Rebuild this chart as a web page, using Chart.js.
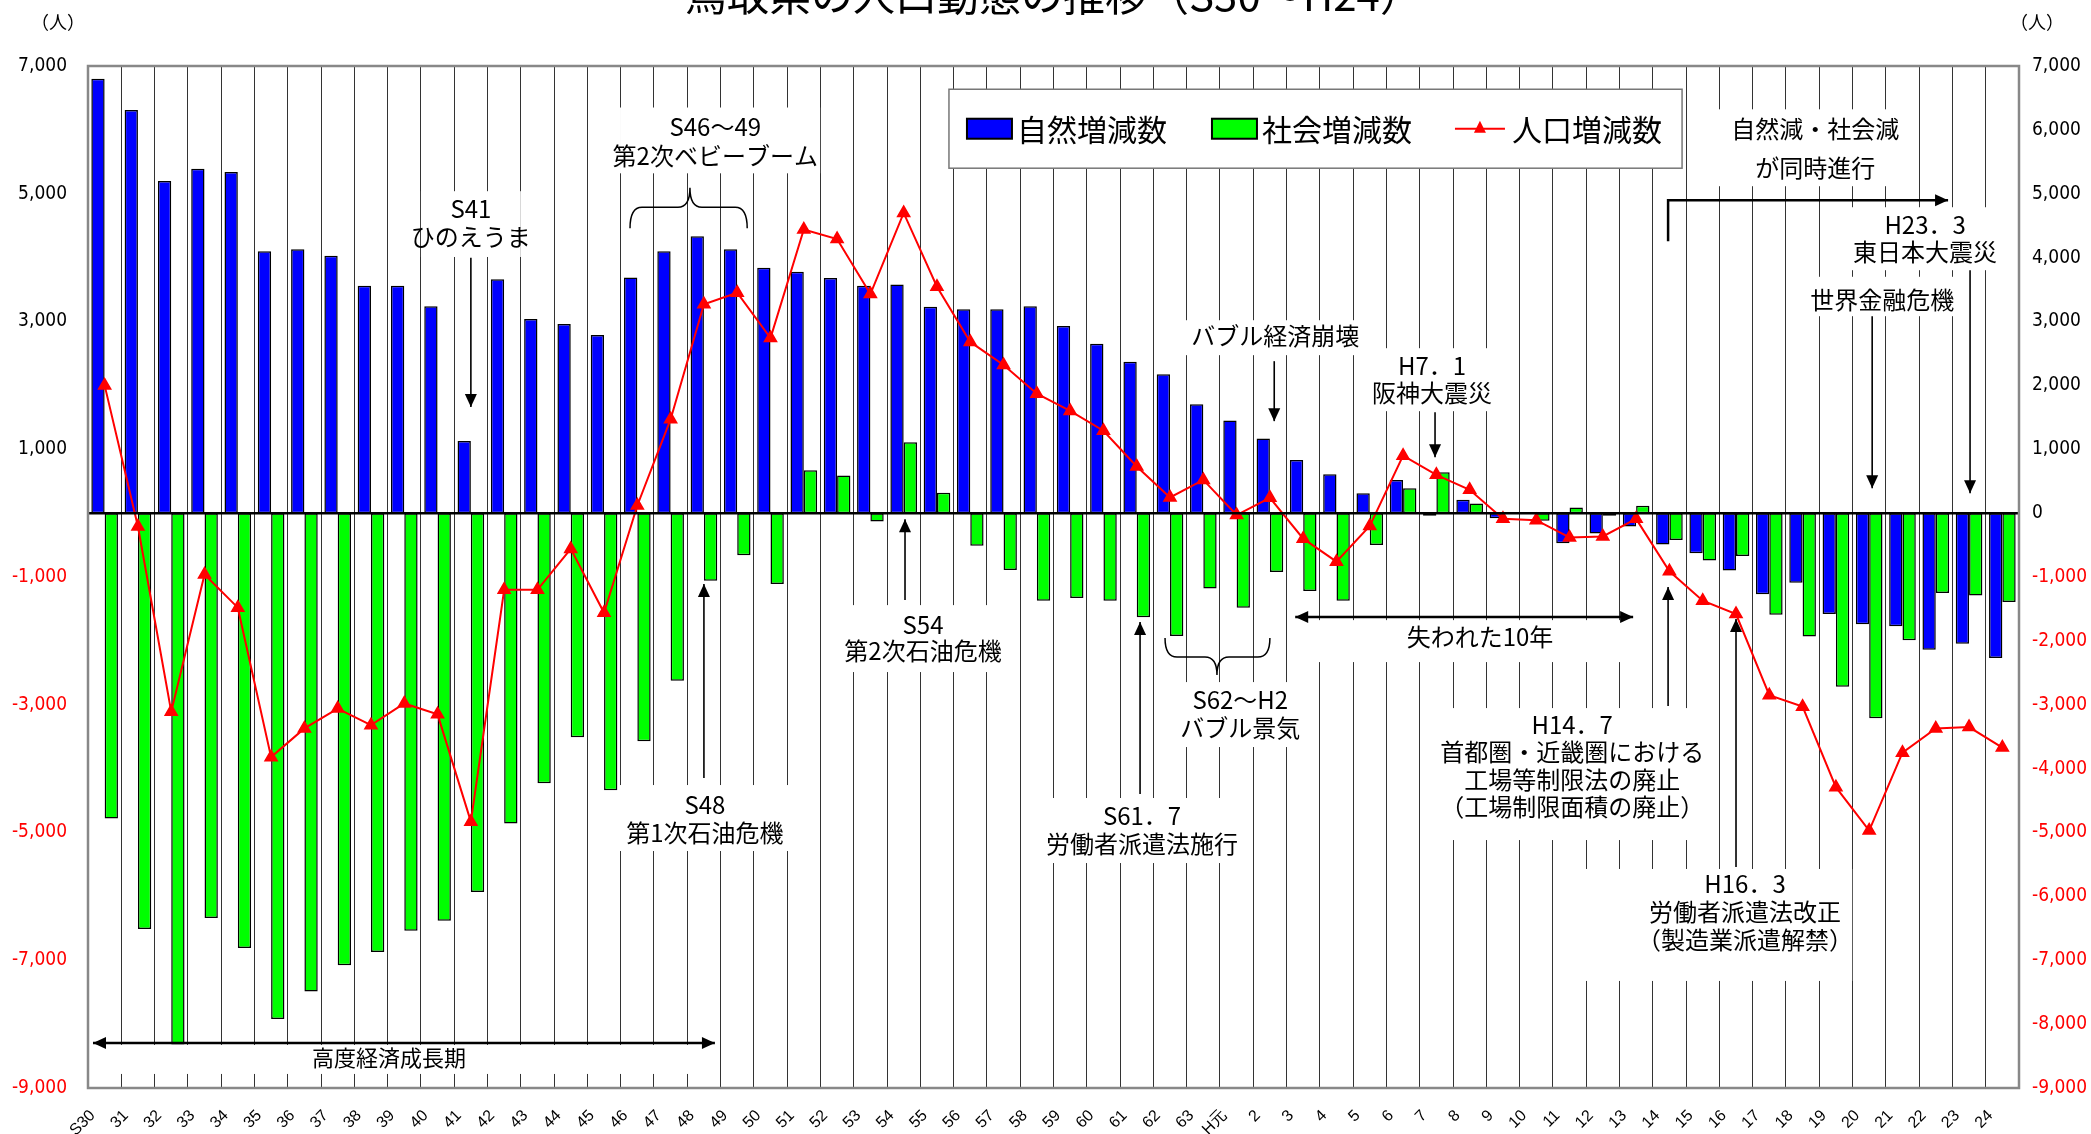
<!DOCTYPE html>
<html lang="ja">
<head>
<meta charset="utf-8">
<title>鳥取県の人口動態の推移</title>
<script src="https://cdn.jsdelivr.net/npm/chart.js@4/dist/chart.umd.min.js"></script>
<style>
  html, body { margin: 0; padding: 0; background: #fff; }
  canvas { display: block; }
</style>
</head>
<body>
<canvas id="chart" width="2091" height="1134"></canvas>
<script>
// 年次 (S30～H24)
const years = [
  'S30', '31', '32', '33', '34', '35', '36', '37', '38', '39',
  '40', '41', '42', '43', '44', '45', '46', '47', '48', '49',
  '50', '51', '52', '53', '54', '55', '56', '57', '58', '59',
  '60', '61', '62', '63', 'H元', '2', '3', '4', '5', '6',
  '7', '8', '9', '10', '11', '12', '13', '14', '15', '16',
  '17', '18', '19', '20', '21', '22', '23', '24'
];

// 自然増減数
const naturalChange = [
  6800, 6310, 5200, 5390, 5340, 4100, 4130, 4030, 3560, 3560,
  3240, 1130, 3660, 3040, 2960, 2790, 3690, 4100, 4335, 4130,
  3840, 3780, 3680, 3560, 3580, 3230, 3190, 3190, 3240, 2930,
  2650, 2370, 2175, 1705, 1450, 1170, 830, 610, 310, 520,
  -40, 210, -80, 10, -470, -320, -210, -490, -630, -900,
  -1270, -1090, -1580, -1740, -1770, -2140, -2045, -2270
];

// 社会増減数
const socialChange = [
  -4780, -6510, -8320, -6340, -6810, -7920, -7490, -7080, -6870, -6540,
  -6380, -5930, -4860, -4230, -3510, -4340, -3570, -2625, -1060, -660,
  -1110, 670, 590, -130, 1110, 320, -510, -890, -1370, -1330,
  -1370, -1630, -1925, -1180, -1480, -920, -1220, -1370, -500, 390,
  640, 150, -10, -120, 90, -40, 115, -420, -740, -670,
  -1590, -1930, -2720, -3210, -1990, -1250, -1290, -1390
];

// 人口増減数
const totalChange = [
  2000, -210, -3110, -960, -1480, -3820, -3370, -3060, -3320, -2980,
  -3150, -4830, -1200, -1200, -560, -1560, 120, 1470, 3270, 3450,
  2740, 4440, 4290, 3430, 4700, 3545, 2680, 2320, 1870, 1600,
  1290, 730, 245, 520, -30, 240, -400, -760, -200, 900,
  600, 365, -90, -110, -380, -365, -90, -910, -1370, -1580,
  -2850, -3030, -4290, -4970, -3750, -3370, -3350, -3670
];

// 目盛
const leftTicks = [7000, 5000, 3000, 1000, -1000, -3000, -5000, -7000, -9000];
const rightTicks = [7000, 6000, 5000, 4000, 3000, 2000, 1000, 0, -1000, -2000, -3000, -4000, -5000, -6000, -7000, -8000, -9000];

const JP = '"Noto Sans CJK JP", "Noto Sans CJK SC", sans-serif';
const NARROW = '"Liberation Sans Narrow", "DejaVu Sans Condensed", "Liberation Sans", sans-serif';
const SANS = '"Liberation Sans", Arial, sans-serif';

// annotations, placed in chart units (category index, value)
const noteBoxes = [
  { i0: 9.5, i1: 12.5, v0: 5040, v1: 4010 },
  { i0: 15.48, i1: 21.49, v0: 6350, v1: 5320 },
  { i0: 15.27, i1: 20.59, v0: -4257, v1: -5290 },
  { i0: 22.06, i1: 27.08, v0: -1440, v1: -2488 },
  { i0: 32.45, i1: 38.46, v0: 3020, v1: 2473 },
  { i0: 37.95, i1: 41.55, v0: 2582, v1: 1596 },
  { i0: 48.46, i1: 54.47, v0: 6322, v1: 5118 },
  { i0: 52.19, i1: 57.09, v0: 4789, v1: 3803 },
  { i0: 51.08, i1: 55.67, v0: 3700, v1: 3083 },
  { i0: 35.6, i1: 46.1, v0: -1675, v1: -2332 },
  { i0: 32.3, i1: 35.9, v0: -2645, v1: -3662 },
  { i0: 28.1, i1: 34.35, v0: -4460, v1: -5478 },
  { i0: 39.96, i1: 47.98, v0: -3052, v1: -5118 },
  { i0: 44.47, i1: 52.49, v0: -5571, v1: -7324 },
  { i0: -0.35, i1: 18.33, v0: -8326, v1: -8780 }
];

const noteTexts = [
  { i: 11, v: 4760, t: 'S41' },
  { i: 11, v: 4320, t: 'ひのえうま' },
  { i: 18.34, v: 6040, t: 'S46～49' },
  { i: 18.34, v: 5600, t: '第2次ベビーブーム' },
  { i: 18.03, v: -4570, t: 'S48' },
  { i: 18.03, v: -5010, t: '第1次石油危機' },
  { i: 24.58, v: -1753, t: 'S54' },
  { i: 24.58, v: -2160, t: '第2次石油危機' },
  { i: 35.16, v: 2770, t: 'バブル経済崩壊' },
  { i: 39.87, v: 2300, t: 'H7．1' },
  { i: 39.87, v: 1878, t: '阪神大震災' },
  { i: 51.38, v: 6010, t: '自然減・社会減' },
  { i: 51.38, v: 5400, t: 'が同時進行' },
  { i: 54.68, v: 4507, t: 'H23．3' },
  { i: 54.68, v: 4085, t: '東日本大震災' },
  { i: 53.39, v: 3333, t: '世界金融危機' },
  { i: 41.31, v: -1940, t: '失われた10年' },
  { i: 34.11, v: -2927, t: 'S62～H2' },
  { i: 34.11, v: -3365, t: 'バブル景気' },
  { i: 31.16, v: -4742, t: 'S61．7' },
  { i: 31.16, v: -5180, t: '労働者派遣法施行' },
  { i: 44.08, v: -3318, t: 'H14．7' },
  { i: 44.08, v: -3740, t: '首都圏・近畿圏における' },
  { i: 44.08, v: -4178, t: '工場等制限法の廃止' },
  { i: 44.08, v: -4601, t: '（工場制限面積の廃止）' },
  { i: 49.27, v: -5806, t: 'H16．3' },
  { i: 49.27, v: -6244, t: '労働者派遣法改正' },
  { i: 49.27, v: -6683, t: '（製造業派遣解禁）' },
  { i: 8.54, v: -8530, t: '高度経済成長期', size: 22 }
];

const noteArrows = [
  { pts: [[11, 4000], [11, 1660]] },
  { pts: [[18.0, -4147], [18.0, -1111]] },
  { pts: [[24.04, -1362], [24.04, -94]] },
  { pts: [[35.13, 2379], [35.13, 1440]] },
  { pts: [[39.96, 1580], [39.96, 876]] },
  { pts: [[56.03, 3803], [56.03, 313]] },
  { pts: [[53.09, 3083], [53.09, 391]] },
  { pts: [[31.1, -4398], [31.1, -1706]] },
  { pts: [[46.96, -3020], [46.96, -1158]] },
  { pts: [[49.0, -5540], [49.0, -1659]] },
  { pts: [[46.96, 4257], [46.96, 4898], [55.37, 4898]], width: 2.5 },
  { pts: [[35.76, -1628], [45.91, -1628]], width: 2.5, both: true },
  { pts: [[-0.35, -8295], [18.33, -8295]], width: 2.5, both: true }
];

const noteBraces = [
  { i0: 15.78, i1: 19.30, ic: 17.58, vEnd: 4460, vArm: 4790, vTip: 5095 },
  { i0: 31.85, i1: 35.0, ic: 33.41, vEnd: -1956, vArm: -2254, vTip: -2535 }
];

const legendBox = { i0: 25.36, i1: 47.38, v0: 6636, v1: 5400 };

function drawHead(ctx, x, y, ang) {
  const L = 13, H = 6;
  ctx.beginPath();
  ctx.moveTo(x, y);
  ctx.lineTo(x - L * Math.cos(ang) + H * Math.sin(ang), y - L * Math.sin(ang) - H * Math.cos(ang));
  ctx.lineTo(x - L * Math.cos(ang) - H * Math.sin(ang), y - L * Math.sin(ang) + H * Math.cos(ang));
  ctx.closePath();
  ctx.fill();
}

const overlay = {
  id: 'overlay',
  beforeDatasetsDraw(chart) {
    const { ctx } = chart;
    const X = i => chart.scales.x.getPixelForValue(i);
    const Y = v => chart.scales.y.getPixelForValue(v);
    ctx.save();
    ctx.fillStyle = '#fff';
    noteBoxes.forEach(b => {
      ctx.fillRect(X(b.i0), Y(b.v0), X(b.i1) - X(b.i0), Y(b.v1) - Y(b.v0));
    });
    ctx.restore();
  },
  afterDatasetsDraw(chart) {
    const { ctx, chartArea } = chart;
    const xs = chart.scales.x;
    const X = i => xs.getPixelForValue(i);
    const Y = v => chart.scales.y.getPixelForValue(v);
    ctx.save();

    // zero line
    ctx.strokeStyle = '#000';
    ctx.lineWidth = 2.5;
    ctx.beginPath();
    ctx.moveTo(chartArea.left, Y(0));
    ctx.lineTo(chartArea.right, Y(0));
    ctx.stroke();

    // plot frame
    ctx.strokeStyle = '#888';
    ctx.lineWidth = 2.5;
    ctx.strokeRect(chartArea.left, chartArea.top, chartArea.right - chartArea.left, chartArea.bottom - chartArea.top);

    // category labels, slanted 45 degrees
    ctx.fillStyle = '#000';
    ctx.font = `16px ${SANS}`;
    ctx.textAlign = 'right';
    ctx.textBaseline = 'middle';
    years.forEach((label, k) => {
      ctx.save();
      ctx.translate(xs.getPixelForTick(k) - 12, chartArea.bottom + 25);
      ctx.rotate(-Math.PI / 4);
      ctx.fillText(label, 0, 0);
      ctx.restore();
    });

    // arrows
    ctx.strokeStyle = '#000';
    ctx.fillStyle = '#000';
    noteArrows.forEach(a => {
      const p = a.pts.map(([i, v]) => [X(i), Y(v)]);
      ctx.lineWidth = a.width || 1.6;
      ctx.beginPath();
      ctx.moveTo(p[0][0], p[0][1]);
      for (let k = 1; k < p.length; k++) ctx.lineTo(p[k][0], p[k][1]);
      ctx.stroke();
      const n = p.length;
      drawHead(ctx, p[n - 1][0], p[n - 1][1], Math.atan2(p[n - 1][1] - p[n - 2][1], p[n - 1][0] - p[n - 2][0]));
      if (a.both) drawHead(ctx, p[0][0], p[0][1], Math.atan2(p[0][1] - p[1][1], p[0][0] - p[1][0]));
    });

    // braces
    ctx.lineWidth = 1.5;
    noteBraces.forEach(b => {
      const xl = X(b.i0), xr = X(b.i1), xc = X(b.ic);
      const yEnd = Y(b.vEnd), yArm = Y(b.vArm), yTip = Y(b.vTip);
      const r = 12;
      ctx.beginPath();
      ctx.moveTo(xl, yEnd);
      ctx.quadraticCurveTo(xl, yArm, xl + r, yArm);
      ctx.lineTo(xc - r, yArm);
      ctx.quadraticCurveTo(xc, yArm, xc, yTip);
      ctx.quadraticCurveTo(xc, yArm, xc + r, yArm);
      ctx.lineTo(xr - r, yArm);
      ctx.quadraticCurveTo(xr, yArm, xr, yEnd);
      ctx.stroke();
    });

    // texts
    ctx.textAlign = 'center';
    ctx.textBaseline = 'middle';
    noteTexts.forEach(n => {
      ctx.font = `${n.size || 24}px ${JP}`;
      ctx.fillText(n.t, X(n.i), Y(n.v));
    });

    // legend
    const lx = X(legendBox.i0), ly = Y(legendBox.v0);
    const lw = X(legendBox.i1) - lx, lh = Y(legendBox.v1) - ly;
    ctx.fillStyle = '#fff';
    ctx.fillRect(lx, ly, lw, lh);
    ctx.strokeStyle = '#777';
    ctx.lineWidth = 1.5;
    ctx.strokeRect(lx, ly, lw, lh);
    const cy = ly + lh / 2;
    ctx.font = `30px ${JP}`;
    ctx.textAlign = 'left';
    ctx.lineWidth = 2;
    ctx.strokeStyle = '#000';
    ctx.fillStyle = '#0000ff';
    ctx.fillRect(lx + 18, cy - 10, 45, 20);
    ctx.strokeRect(lx + 18, cy - 10, 45, 20);
    ctx.fillStyle = '#00ff00';
    ctx.fillRect(lx + 263, cy - 10, 45, 20);
    ctx.strokeRect(lx + 263, cy - 10, 45, 20);
    ctx.strokeStyle = '#ff0000';
    ctx.beginPath();
    ctx.moveTo(lx + 506, cy);
    ctx.lineTo(lx + 556, cy);
    ctx.stroke();
    ctx.fillStyle = '#ff0000';
    ctx.beginPath();
    ctx.moveTo(lx + 531, cy - 8);
    ctx.lineTo(lx + 537, cy + 4);
    ctx.lineTo(lx + 525, cy + 4);
    ctx.closePath();
    ctx.fill();
    ctx.fillStyle = '#000';
    ctx.fillText('自然増減数', lx + 68, cy + 1);
    ctx.fillText('社会増減数', lx + 313, cy + 1);
    ctx.fillText('人口増減数', lx + 563, cy + 1);

    // title and units
    ctx.textAlign = 'center';
    ctx.textBaseline = 'alphabetic';
    ctx.font = `42px ${JP}`;
    ctx.fillText('鳥取県の人口動態の推移（S30～H24）', (chartArea.left + chartArea.right) / 2, 11);
    ctx.textBaseline = 'middle';
    ctx.font = `18px ${JP}`;
    ctx.fillText('（人）', 58, 22);
    ctx.fillText('（人）', 2037, 22);

    ctx.restore();
  }
};

const tickColor = ctx => (ctx.tick && ctx.tick.value < 0 ? '#ff0000' : '#000');

new Chart(document.getElementById('chart'), {
  type: 'bar',
  data: {
    labels: years,
    datasets: [
      {
        label: '自然増減数',
        data: naturalChange,
        backgroundColor: '#0000ff',
        borderColor: '#000',
        borderWidth: 1.5,
        borderSkipped: false,
        order: 1
      },
      {
        label: '社会増減数',
        data: socialChange,
        backgroundColor: '#00ff00',
        borderColor: '#000',
        borderWidth: 1.5,
        borderSkipped: false,
        order: 1
      },
      {
        type: 'line',
        label: '人口増減数',
        data: totalChange,
        borderColor: '#ff0000',
        backgroundColor: '#ff0000',
        borderWidth: 2,
        pointStyle: 'triangle',
        pointRadius: 6.5,
        pointBackgroundColor: '#ff0000',
        pointBorderColor: '#ff0000',
        tension: 0,
        order: 0
      }
    ]
  },
  options: {
    responsive: false,
    animation: false,
    devicePixelRatio: 1,
    layout: { padding: { top: 66, left: 0, right: 0, bottom: 0 } },
    datasets: {
      bar: { categoryPercentage: 0.8, barPercentage: 1.0 }
    },
    plugins: {
      legend: { display: false },
      tooltip: { enabled: false },
      title: { display: false }
    },
    scales: {
      x: {
        offset: true,
        grid: { offset: true, color: '#333', lineWidth: 1, drawTicks: false },
        border: { display: false },
        ticks: { display: false },
        afterFit(scale) { scale.height = 46; }
      },
      y: {
        position: 'left',
        min: -9000,
        max: 7000,
        grid: { display: false, drawTicks: false },
        border: { display: false },
        afterBuildTicks(scale) { scale.ticks = leftTicks.map(value => ({ value })); },
        ticks: {
          padding: 21,
          color: tickColor,
          font: { family: NARROW, size: 19 },
          callback: v => v.toLocaleString('en-US')
        },
        afterFit(scale) { scale.width = 88; }
      },
      y1: {
        position: 'right',
        min: -9000,
        max: 7000,
        grid: { display: false, drawTicks: false },
        border: { display: false },
        afterBuildTicks(scale) { scale.ticks = rightTicks.map(value => ({ value })); },
        ticks: {
          padding: 13,
          color: tickColor,
          font: { family: NARROW, size: 19 },
          callback: v => v.toLocaleString('en-US')
        },
        afterFit(scale) { scale.width = 72; }
      }
    }
  },
  plugins: [overlay]
});
</script>
</body>
</html>
